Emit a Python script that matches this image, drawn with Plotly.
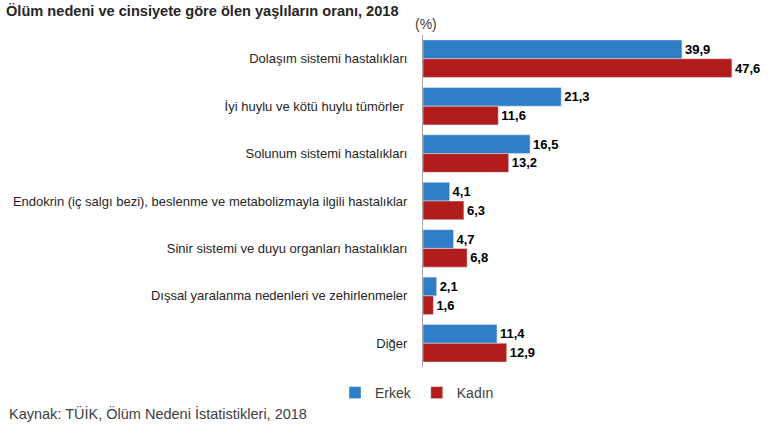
import plotly.graph_objects as go

# Ölüm nedenleri (yukarıdan aşağıya)
causes = [
    "Dolaşım sistemi hastalıkları",
    "İyi huylu ve kötü huylu tümörler ",
    "Solunum sistemi hastalıkları",
    "Endokrin (iç salgı bezi), beslenme ve metabolizmayla ilgili hastalıklar",
    "Sinir sistemi ve duyu organları hastalıkları",
    "Dışsal yaralanma nedenleri ve zehirlenmeler",
    "Diğer",
]
erkek = [39.9, 21.3, 16.5, 4.1, 4.7, 2.1, 11.4]
kadin = [47.6, 11.6, 13.2, 6.3, 6.8, 1.6, 12.9]

W, H = 770, 441
L, R, T, B = 423, 10, 35, 68
pw = W - L - R
ph = H - T - B


def px_x(p):
    return (p - L) / pw


def px_y(p):
    return (H - B - p) / ph


fig = go.Figure()
fig.add_trace(go.Bar(
    y=causes, x=erkek, name="Erkek", orientation="h",
    marker_color="#2D7DC7",
    texttemplate="%{x:.1f}", textposition="outside",
    textfont=dict(size=13, color="#000000", weight="bold"),
    cliponaxis=False,
))
fig.add_trace(go.Bar(
    y=causes, x=kadin, name="Kadın", orientation="h",
    marker_color="#B31C1C",
    texttemplate="%{x:.1f}", textposition="outside",
    textfont=dict(size=13, color="#000000", weight="bold"),
    cliponaxis=False,
))

fig.update_layout(
    width=W, height=H,
    margin=dict(l=L, r=R, t=T, b=B),
    barmode="group", bargap=0.21, bargroupgap=0,
    separators=",.",
    paper_bgcolor="white", plot_bgcolor="white",
    font=dict(family="Liberation Sans, Arial", size=13, color="#262626"),
    title=dict(
        text="<b>Ölüm nedeni ve cinsiyete göre ölen yaşlıların oranı, 2018</b>",
        x=6 / W, xanchor="left", xref="container",
        y=1 - 11 / H, yanchor="middle", yref="container",
        font=dict(size=14.6, color="#262626"),
    ),
    xaxis=dict(range=[0, pw / 6.49], visible=False, fixedrange=True),
    yaxis=dict(
        autorange="reversed", showline=True, linecolor="#A6A6A6", linewidth=1,
        ticks="", showgrid=False, ticklabelstandoff=12,
        tickfont=dict(size=13, color="#262626"),
    ),
    legend=dict(
        orientation="h", xref="container", yref="container",
        x=335 / W, xanchor="left", y=1 - 393 / H, yanchor="middle",
        font=dict(size=14, color="#404040"),
        itemwidth=30, tracegroupgap=0,
    ),
    annotations=[
        dict(text="(%)", x=px_x(426), y=px_y(24), xref="paper", yref="paper",
             showarrow=False, xanchor="center", yanchor="middle",
             font=dict(size=14, color="#404040")),
        dict(text="Kaynak: TÜİK, Ölüm Nedeni İstatistikleri, 2018",
             x=px_x(7), y=px_y(420), xref="paper", yref="paper",
             showarrow=False, xanchor="left", yanchor="middle",
             font=dict(size=14.5, color="#404040")),
    ],
    showlegend=True,
)

fig.write_html(
    "out.html",
    config={"displayModeBar": False},
    post_script="document.body.style.margin = '0';",
)
